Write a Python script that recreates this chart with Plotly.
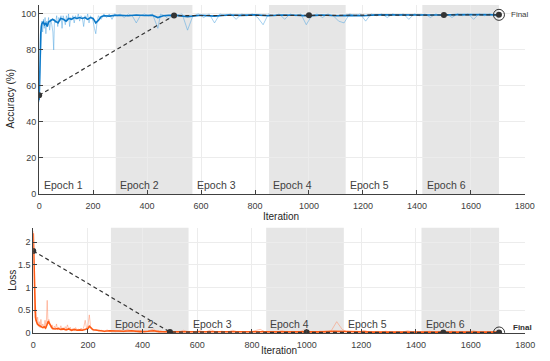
import plotly.graph_objects as go

# ---- data ----
EPOCH_STARTS = [0, 284, 568, 852, 1136, 1420]
EPOCH_END = 1704
EPOCH_NAMES = ["Epoch 1", "Epoch 2", "Epoch 3", "Epoch 4", "Epoch 5", "Epoch 6"]

raw_iter = [0, 2, 4, 6, 8, 10, 13, 16, 19, 22, 25, 28, 31, 35, 39, 43, 47, 51, 54, 57,
            61, 65, 69, 73, 77, 81, 85, 89, 93, 97, 101, 105, 109, 113, 117, 121, 125,
            130, 135, 140, 145, 150, 155, 160, 165, 170, 175, 180, 185, 190, 195, 200, 205, 210, 215, 220,
            230, 240, 250, 260, 270, 280, 290, 300,
            315, 330, 345, 360, 375, 390, 405, 420, 440, 450, 465, 480, 495,
            510, 530, 550, 570, 590, 610, 630, 650, 670, 690, 710, 730, 750, 770, 790, 810, 830, 850,
            870, 890, 910, 930, 950, 970, 990, 1010, 1030, 1050, 1070, 1090, 1110, 1130, 1150, 1170,
            1190, 1210, 1230, 1250, 1270, 1290, 1310, 1330, 1350, 1370, 1390, 1410, 1430, 1450, 1470,
            1490, 1510, 1530, 1550, 1570, 1590, 1610, 1630, 1650, 1670, 1690, 1704]

acc_raw = [51, 60, 78, 88, 94, 96, 90, 97, 92, 98, 89, 96, 93, 98, 91, 97, 94, 90, 80, 97,
           95, 99, 93, 98, 96, 99, 92, 99, 97, 94, 99, 96, 100, 93, 98, 97, 99,
           95, 99, 97, 100, 96, 99, 98, 93, 99, 97, 100, 95, 99, 98, 96, 92, 89, 96, 99,
           97, 100, 98, 100, 97, 100, 99, 100,
           98, 100, 99, 95, 99, 100, 99, 100, 92, 100, 99, 97, 100,
           99.5, 100, 91, 99, 100, 98, 100, 95, 100, 99, 100, 97, 100, 99, 100, 98, 94, 100,
           99, 100, 97, 100, 99, 100, 94, 99, 100, 98, 100, 99, 96, 95, 100, 99,
           100, 96, 100, 99, 100, 98, 100, 99, 100, 97, 100, 99, 100, 98, 100,
           99, 100, 98, 100, 99, 100, 97, 100, 99, 100, 99, 100]

loss_raw = [2.25, 1.7, 0.78, 0.45, 0.6, 0.3, 0.22, 0.35, 0.15, 0.25, 0.12, 0.3, 0.14, 0.2, 0.1, 0.28, 0.12, 0.72, 0.2, 0.3,
            0.22, 0.12, 0.18, 0.08, 0.15, 0.1, 0.2, 0.07, 0.13, 0.09, 0.16, 0.06, 0.12, 0.08, 0.14, 0.1, 0.18,
            0.08, 0.13, 0.06, 0.1, 0.05, 0.12, 0.07, 0.09, 0.05, 0.11, 0.06, 0.14, 0.28, 0.1, 0.16, 0.4, 0.12, 0.07, 0.05,
            0.08, 0.04, 0.06, 0.03, 0.07, 0.03, 0.05, 0.03,
            0.06, 0.03, 0.08, 0.04, 0.03, 0.06, 0.02, 0.04, 0.09, 0.03, 0.05, 0.02, 0.04,
            0.03, 0.02, 0.06, 0.02, 0.03, 0.05, 0.02, 0.07, 0.02, 0.04, 0.02, 0.06, 0.02, 0.03, 0.02, 0.05, 0.08, 0.02,
            0.03, 0.02, 0.05, 0.02, 0.03, 0.02, 0.07, 0.03, 0.02, 0.04, 0.02, 0.05, 0.25, 0.08, 0.02, 0.03,
            0.02, 0.06, 0.02, 0.03, 0.02, 0.04, 0.02, 0.03, 0.02, 0.05, 0.02, 0.03, 0.02, 0.04, 0.02,
            0.03, 0.02, 0.04, 0.02, 0.03, 0.02, 0.05, 0.02, 0.03, 0.02, 0.03, 0.02]

acc_smooth_iter = [0, 2, 4, 6, 8, 10, 15, 20, 25, 30, 35, 40, 50, 60, 70, 80, 90, 100, 110, 120,
                   130, 140, 150, 160, 170, 180, 190, 200, 210, 220, 230, 240, 260, 280, 300, 330,
                   360, 390, 420, 440, 460, 480, 500, 550, 600, 650, 700, 750, 800, 850, 900, 950,
                   1000, 1050, 1100, 1150, 1200, 1250, 1300, 1350, 1400, 1450, 1500, 1550, 1600, 1650, 1704]
acc_smooth = [52, 70, 83, 89, 93, 94.5, 95.5, 94, 95, 93, 95.5, 96, 97, 96, 95, 97.5, 97, 96, 97.5, 97,
              98, 97.5, 98, 97.5, 98, 97, 98, 97.5, 95, 96.5, 98.5, 99, 98.8, 99.2, 99.3, 99,
              99.4, 99.1, 99.3, 98, 99, 99.2, 99.3, 98.5, 99.3, 98.8, 99.4, 99.2, 99.5, 99.0, 99.4, 99.3,
              98.9, 99.4, 99.0, 99.2, 99.0, 99.5, 99.4, 99.5, 99.3, 99.5, 99.4, 99.6, 99.4, 99.6, 99.5]

loss_smooth_iter = [0, 2, 4, 6, 8, 10, 15, 20, 25, 30, 35, 40, 45, 50, 55, 60, 65, 70, 80, 90,
                    100, 110, 120, 130, 140, 150, 160, 170, 180, 190, 200, 205, 210, 215, 220, 230,
                    240, 260, 280, 300, 330, 360, 390, 420, 440, 460, 480, 500, 550, 600, 650, 700,
                    750, 800, 850, 900, 950, 1000, 1050, 1100, 1150, 1200, 1250, 1300, 1350, 1400,
                    1450, 1500, 1550, 1600, 1650, 1704]
loss_smooth = [2.2, 1.5, 0.8, 0.42, 0.35, 0.28, 0.2, 0.17, 0.15, 0.13, 0.12, 0.14, 0.11, 0.18, 0.26, 0.2, 0.13, 0.1, 0.09, 0.1,
               0.08, 0.09, 0.07, 0.09, 0.06, 0.08, 0.06, 0.07, 0.06, 0.08, 0.1, 0.15, 0.13, 0.09, 0.07, 0.06,
               0.05, 0.04, 0.05, 0.04, 0.04, 0.05, 0.03, 0.04, 0.05, 0.03, 0.03, 0.03, 0.03, 0.025, 0.03, 0.02,
               0.025, 0.02, 0.03, 0.02, 0.025, 0.02, 0.025, 0.04, 0.03, 0.02, 0.02, 0.02, 0.025, 0.02,
               0.02, 0.02, 0.02, 0.025, 0.02, 0.02]

check_iter = [0, 500, 1000, 1500, 1704]
check_acc = [54.8, 99.1, 99.2, 99.4, 99.5]
check_loss = [1.81, 0.02, 0.015, 0.012, 0.012]

BLUE = "#0a78c8"
BLUE_RAW = "rgba(90,170,225,0.55)"
ORANGE = "#ff5a14"
ORANGE_RAW = "rgba(255,140,100,0.5)"
DARK = "#333333"
FONT = "Liberation Sans, Arial, sans-serif"

fig = go.Figure()

panels = [
    ("x", "y", acc_raw, acc_smooth_iter, acc_smooth, check_acc, BLUE, BLUE_RAW),
    ("x2", "y2", loss_raw, loss_smooth_iter, loss_smooth, check_loss, ORANGE, ORANGE_RAW),
]
for xa, ya, raw, s_it, s_val, chk, col, col_raw in panels:
    fig.add_trace(go.Scatter(x=raw_iter, y=raw, mode="lines", xaxis=xa, yaxis=ya,
                             line=dict(color=col_raw, width=1), showlegend=False, hoverinfo="skip"))
    fig.add_trace(go.Scatter(x=s_it, y=s_val, mode="lines", xaxis=xa, yaxis=ya,
                             line=dict(color=col, width=1.6), showlegend=False))
    fig.add_trace(go.Scatter(x=check_iter, y=chk, mode="lines+markers", xaxis=xa, yaxis=ya,
                             line=dict(color=DARK, width=1.2, dash="4px,3px"),
                             marker=dict(color=DARK, size=6), showlegend=False))
    # ring round the final checkpoint
    fig.add_trace(go.Scatter(x=check_iter[-1:], y=chk[-1:], mode="markers", xaxis=xa, yaxis=ya,
                             marker=dict(color="rgba(0,0,0,0)", size=11, line=dict(color=DARK, width=1)),
                             showlegend=False, hoverinfo="skip"))

# epoch shading + labels
for i, start in enumerate(EPOCH_STARTS):
    end = EPOCH_STARTS[i + 1] if i + 1 < len(EPOCH_STARTS) else EPOCH_END
    if i % 2 == 1:
        for xr, yr in [("x", "y"), ("x2", "y2")]:
            fig.add_shape(type="rect", xref=xr, yref=yr + " domain", x0=start, x1=end, y0=0, y1=1,
                          fillcolor="#e6e6e6", line_width=0, layer="below")
    fig.add_annotation(x=start + 9, y=5.0, xref="x", yref="y", text=EPOCH_NAMES[i],
                       showarrow=False, xanchor="left", yanchor="middle",
                       font=dict(size=10.5, color="#404040", family=FONT))
    if i > 0:
        fig.add_annotation(x=start + 8, y=0.19, xref="x2", yref="y2", text=EPOCH_NAMES[i],
                           showarrow=False, xanchor="left", yanchor="middle",
                           font=dict(size=10.5, color="#404040", family=FONT))

fig.add_annotation(x=EPOCH_END, y=check_acc[-1], xref="x", yref="y", text="Final", showarrow=False,
                   xanchor="left", yanchor="middle", xshift=10,
                   font=dict(size=8, color="#404040", family=FONT))
fig.add_annotation(x=EPOCH_END, y=0.12, xref="x2", yref="y2", text="<b>Final</b>", showarrow=False,
                   xanchor="left", yanchor="middle", xshift=12,
                   font=dict(size=8, color="#303030", family=FONT))

# axis titles, placed in pixels of the 550x361 page
title_font = dict(size=10, color="#262626", family=FONT)
titles = [("Accuracy (%)", 8, 100, -90), ("Iteration", 285, 220, 0),
          ("Loss", 9, 284, -90), ("Iteration", 283, 355, 0)]
for text, px, py, ang in titles:
    fig.add_annotation(x=px / 550, y=(361 - py) / 361, xref="paper", yref="paper", text=text,
                       textangle=ang, showarrow=False, xanchor="center", yanchor="middle",
                       font=title_font)

axis_common = dict(showline=True, linecolor="#404040", linewidth=1, ticks="inside", ticklen=4,
                   tickcolor="#404040", tickfont=dict(size=9, color="#404040", family=FONT),
                   showgrid=True, gridcolor="#ececec", gridwidth=1, zeroline=False)
x_ticks = list(range(0, 1801, 200))

fig.update_layout(
    width=550, height=361,
    margin=dict(l=0, r=0, t=0, b=0),
    paper_bgcolor="white", plot_bgcolor="white",
    font=dict(family=FONT),
    xaxis=dict(domain=[37 / 550, 534.5 / 550], range=[0, 1800], tickvals=x_ticks, anchor="y",
               ticklabelstandoff=3, **axis_common),
    yaxis=dict(domain=[(361 - 196.7) / 361, (361 - 5) / 361], range=[0, 105],
               tickvals=[0, 20, 40, 60, 80, 100], anchor="x", **axis_common),
    xaxis2=dict(domain=[31 / 550, 535 / 550], range=[0, 1800], tickvals=x_ticks, anchor="y2",
                ticklabelstandoff=3, **axis_common),
    yaxis2=dict(domain=[(361 - 337.7) / 361, (361 - 231) / 361], range=[0, 2.32],
                tickvals=[0, 0.5, 1, 1.5, 2], ticktext=["0", "0.5", "1", "1.5", "2"],
                anchor="x2", **axis_common),
)

# the page's default body margin would push the 550x361 figure off the window
fig.write_html("out.html", config={"displayModeBar": False},
               post_script="document.body.style.margin='0px';")
